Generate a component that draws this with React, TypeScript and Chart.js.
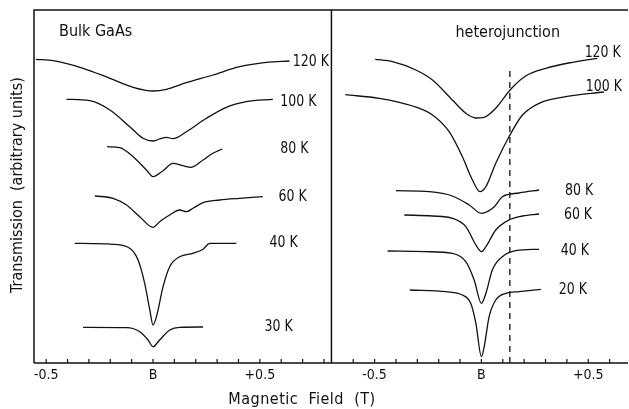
import { useEffect, useRef } from "react";
import { Chart, registerables } from "chart.js";

Chart.register(...registerables);

// ---- axis ranges (magnetic field, T) ----
const LEFT_MIN = -0.557;
const LEFT_MAX = 0.835;
const RIGHT_MIN = -0.702;
const RIGHT_MAX = 0.686;
const PANEL_OFFSET = LEFT_MAX - RIGHT_MIN; // right panel shifted onto the shared axis
const Y_MIN = 0;
const Y_MAX = 353;

const LEFT_TICKS = [-0.5, -0.4, -0.3, -0.2, -0.1, 0, 0.1, 0.2, 0.3, 0.4, 0.5, 0.6, 0.7, 0.8];
const RIGHT_TICKS = [-0.6, -0.5, -0.4, -0.3, -0.2, -0.1, 0, 0.1, 0.2, 0.3, 0.4, 0.5, 0.6];
const LABELLED_TICKS = [-0.5, 0, 0.5];
const TICK_TEXT = ["-0.5", "B", "+0.5"];

// ---- Bulk GaAs (left panel) ----
const bulk120B = [-0.548, -0.467, -0.327, -0.202, -0.093, 0, 0.063, 0.156, 0.28, 0.405, 0.53, 0.639];
const bulk120T = [303.7, 302.3, 294.7, 284.7, 275.7, 272, 273.7, 280.3, 288, 296.3, 300.7, 302];

const bulk100B = [-0.405, -0.296, -0.202, -0.109, -0.047, 0, 0.039, 0.063, 0.093, 0.156, 0.25, 0.343, 0.436, 0.561];
const bulk100T = [263.7, 262.3, 253, 236.3, 224.7, 222, 224.7, 225.7, 224.3, 231.3, 244.7, 255.7, 261.3, 263.7];

const bulk80B = [-0.215, -0.156, -0.093, -0.031, 0, 0.047, 0.093, 0.14, 0.179, 0.234, 0.28, 0.324];
const bulk80T = [216.3, 215.3, 206.3, 193, 186.3, 192.3, 199.7, 197.3, 195.7, 203, 209.7, 214];

const bulk60B = [-0.272, -0.187, -0.124, -0.062, 0, 0.031, 0.078, 0.125, 0.156, 0.187, 0.234, 0.312, 0.405, 0.514];
const bulk60T = [167, 164.7, 158, 146.3, 135.7, 141.3, 148, 153, 151.3, 154.7, 160.3, 163, 164.7, 166.3];

const bulk40B = [-0.366, -0.187, -0.109, -0.07, -0.039, -0.015, 0, 0.016, 0.047, 0.078, 0.125, 0.187, 0.234, 0.265, 0.39];
const bulk40T = [119.7, 118.7, 114.7, 103, 79.7, 53, 38, 46.3, 76.3, 96.3, 106.3, 109.7, 113.7, 119.7, 119.7];

const bulk30B = [-0.327, -0.124, -0.062, -0.023, 0, 0.031, 0.078, 0.125, 0.234];
const bulk30T = [35.7, 35.3, 31.3, 23, 16.3, 23, 33, 35.7, 36];

// ---- heterojunction (right panel) ----
const het120B = [-0.497, -0.416, -0.307, -0.229, -0.136, -0.073, -0.026, 0.013, 0.067, 0.137, 0.207, 0.301, 0.425, 0.542];
const het120T = [303.7, 301.3, 293, 283, 263, 249.7, 245, 245.7, 254.7, 273.7, 287, 294.7, 300.7, 304.7];

const het100B = [-0.637, -0.478, -0.322, -0.229, -0.151, -0.089, -0.042, -0.007, 0.021, 0.067, 0.129, 0.192, 0.27, 0.394, 0.573];
const het100T = [268.3, 264.7, 257, 248, 231.3, 206.3, 183, 171.3, 176.3, 199.7, 226.3, 248, 259.7, 266.3, 271];

const het80B = [-0.4, -0.244, -0.136, -0.057, 0, 0.059, 0.098, 0.176, 0.27];
const het80T = [172.3, 171.3, 167, 158, 149.7, 156, 166.3, 170, 173];

const het60B = [-0.361, -0.229, -0.136, -0.073, -0.026, 0, 0.021, 0.067, 0.129, 0.192, 0.27];
const het60T = [148, 147, 144.7, 136.3, 118, 111.3, 116.3, 133, 143, 147, 149];

const het40B = [-0.439, -0.26, -0.136, -0.073, -0.034, 0, 0.021, 0.051, 0.098, 0.161, 0.27];
const het40T = [112, 111.3, 109.7, 101.3, 83, 59.7, 69.7, 93, 106.3, 112.3, 113.7];

const het20B = [-0.335, -0.166, -0.089, -0.05, -0.026, 0, 0.013, 0.036, 0.067, 0.114, 0.176, 0.278];
const het20T = [73, 71.3, 68, 59.7, 39.7, 6.3, 16.3, 46.3, 63, 69.7, 71.3, 73.7];

// dashed marker in the heterojunction panel
const DASH_FIELD = 0.133;
const DASH_TOP = 295;

// temperature labels: text, anchor field, anchor transmission
const leftLabels = ["120 K", "100 K", "80 K", "60 K", "40 K", "30 K"];
const leftLabelB = [0.654, 0.596, 0.596, 0.587, 0.545, 0.522];
const leftLabelT = [301, 261.3, 214, 166.3, 119.7, 36];

const rightLabels = ["120 K", "100 K", "80 K", "60 K", "40 K", "20 K"];
const rightLabelB = [0.483, 0.488, 0.391, 0.386, 0.371, 0.362];
const rightLabelT = [309.7, 275.7, 172.3, 148, 112, 73];

const INK = "#111111";
const FONT = '"DejaVu Sans Condensed", "Liberation Sans Narrow", "DejaVu Sans", sans-serif';

function pts(b: number[], t: number[], off: number) {
  return b.map((v, i) => ({ x: v + off, y: t[i] }));
}

function txt(ctx: CanvasRenderingContext2D, s: string, x: number, y: number, size: number, sx = 1, spacing = 0) {
  ctx.save();
  ctx.font = `${size}px ${FONT}`;
  (ctx as any).letterSpacing = `${spacing}px`;
  ctx.translate(x, y);
  ctx.scale(sx, 1);
  ctx.fillText(s, 0, 0);
  ctx.restore();
}

export default function App() {
  const ref = useRef<HTMLCanvasElement | null>(null);

  useEffect(() => {
    if (!ref.current) return;
    const left: [number[], number[]][] = [
      [bulk120B, bulk120T], [bulk100B, bulk100T], [bulk80B, bulk80T],
      [bulk60B, bulk60T], [bulk40B, bulk40T], [bulk30B, bulk30T],
    ];
    const right: [number[], number[]][] = [
      [het120B, het120T], [het100B, het100T], [het80B, het80T],
      [het60B, het60T], [het40B, het40T], [het20B, het20T],
    ];
    const curve = (data: { x: number; y: number }[]) => ({
      data,
      borderColor: INK,
      borderWidth: 1.3,
      pointRadius: 0,
      fill: false,
      tension: 0.35,
      cubicInterpolationMode: "monotone" as const,
    });
    const datasets: any[] = [
      ...left.map(([b, t]) => curve(pts(b, t, 0))),
      ...right.map(([b, t]) => curve(pts(b, t, PANEL_OFFSET))),
      {
        data: [
          { x: DASH_FIELD + PANEL_OFFSET, y: Y_MIN },
          { x: DASH_FIELD + PANEL_OFFSET, y: DASH_TOP },
        ],
        borderColor: INK,
        borderWidth: 1.3,
        borderDash: [6, 5],
        pointRadius: 0,
        fill: false,
      },
    ];

    const decor = {
      id: "decor",
      afterDraw(chart: any) {
        const { ctx, chartArea: a, scales } = chart;
        const x = scales.x;
        const y = scales.y;
        ctx.save();
        ctx.strokeStyle = INK;
        ctx.fillStyle = INK;
        ctx.lineWidth = 1.5;
        const divX = x.getPixelForValue(LEFT_MAX);
        ctx.beginPath();
        ctx.moveTo(a.left, a.bottom);
        ctx.lineTo(a.left, a.top);
        ctx.lineTo(a.right, a.top);
        ctx.moveTo(a.left, a.bottom);
        ctx.lineTo(a.right, a.bottom);
        ctx.moveTo(divX, a.top);
        ctx.lineTo(divX, a.bottom);
        ctx.stroke();

        // inward ticks
        ctx.lineWidth = 1.2;
        ctx.beginPath();
        for (const t of LEFT_TICKS) {
          const px = x.getPixelForValue(t);
          ctx.moveTo(px, a.bottom);
          ctx.lineTo(px, a.bottom - 4);
        }
        for (const t of RIGHT_TICKS) {
          const px = x.getPixelForValue(t + PANEL_OFFSET);
          ctx.moveTo(px, a.bottom);
          ctx.lineTo(px, a.bottom - 4);
        }
        ctx.stroke();

        // tick labels
        ctx.textAlign = "center";
        ctx.textBaseline = "middle";
        LABELLED_TICKS.forEach((t, i) => {
          txt(ctx, TICK_TEXT[i], x.getPixelForValue(t), a.bottom + 12, 14);
          txt(ctx, TICK_TEXT[i], x.getPixelForValue(t + PANEL_OFFSET), a.bottom + 12, 14);
        });

        // axis titles
        txt(ctx, "Magnetic  Field  (T)", 302, a.bottom + 37, 16, 1, 0.5);
        ctx.save();
        ctx.translate(18, 185);
        ctx.rotate(-Math.PI / 2);
        txt(ctx, "Transmission  (arbitrary units)", 0, 0, 16);
        ctx.restore();

        // panel titles
        ctx.textAlign = "left";
        txt(ctx, "Bulk GaAs", x.getPixelForValue(LEFT_MIN) + 25, a.top + 22, 16);
        txt(ctx, "heterojunction", divX + 124, a.top + 23, 16);

        // temperature labels
        leftLabels.forEach((s, i) => {
          txt(ctx, s, x.getPixelForValue(leftLabelB[i]), y.getPixelForValue(leftLabelT[i]), 15, 0.93);
        });
        rightLabels.forEach((s, i) => {
          txt(ctx, s, x.getPixelForValue(rightLabelB[i] + PANEL_OFFSET), y.getPixelForValue(rightLabelT[i]), 15, 0.93);
        });
        ctx.restore();
      },
    };

    const chart = new Chart(ref.current, {
      type: "line",
      data: { datasets },
      options: {
        animation: false,
        responsive: false,
        parsing: false as any,
        layout: { padding: { left: 34, top: 10, right: 1, bottom: 46 } },
        plugins: { legend: { display: false }, tooltip: { enabled: false } },
        scales: {
          x: { type: "linear", min: LEFT_MIN, max: RIGHT_MAX + PANEL_OFFSET, display: false },
          y: { type: "linear", min: Y_MIN, max: Y_MAX, display: false },
        },
      },
      plugins: [decor],
    });
    return () => chart.destroy();
  }, []);

  return (
    <div style={{ position: "fixed", left: 0, top: 0, width: 629, height: 409, background: "#fff" }}>
      <canvas ref={ref} width={629} height={409} style={{ width: 629, height: 409, display: "block" }} />
    </div>
  );
}
